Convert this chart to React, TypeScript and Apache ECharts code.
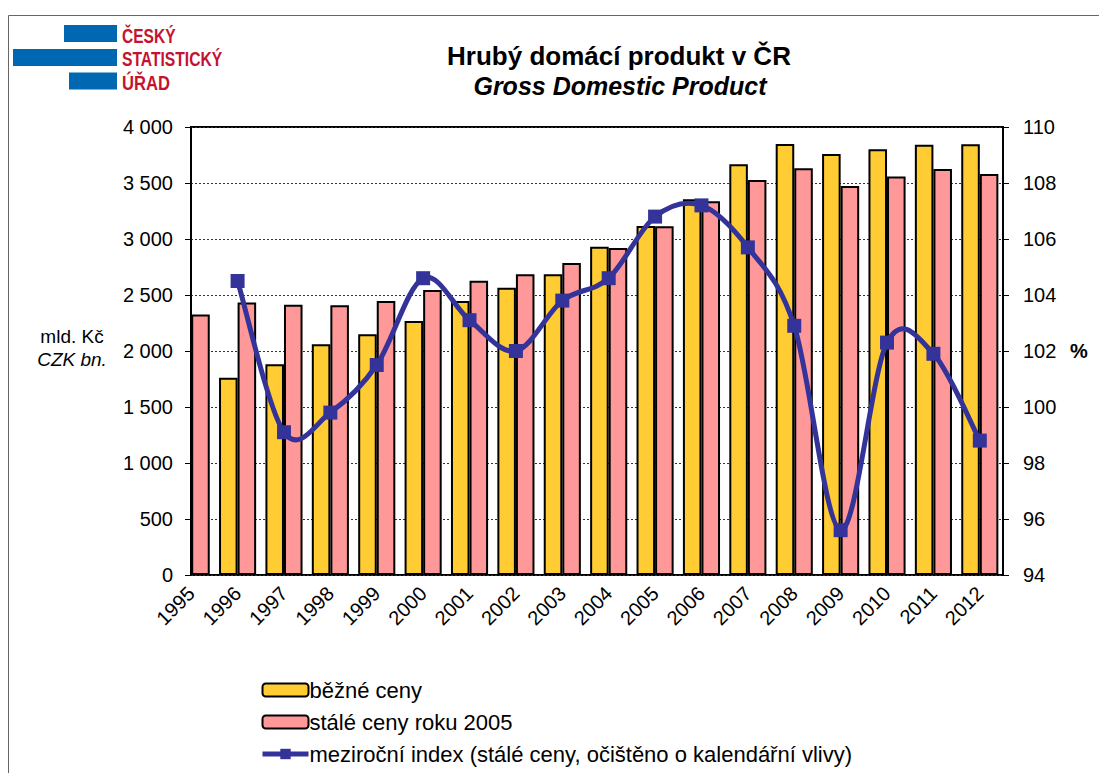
import React, { useEffect, useRef } from "react";
import * as echarts from "echarts";

const years = ["1995", "1996", "1997", "1998", "1999", "2000", "2001", "2002", "2003", "2004", "2005", "2006", "2007", "2008", "2009", "2010", "2011", "2012"];
const currentPrices = [null, 1762, 1881, 2060, 2149, 2268, 2446, 2565, 2685, 2930, 3116, 3354, 3667, 3848, 3759, 3801, 3842, 3845];
const constantPrices2005 = [2327, 2432, 2414, 2408, 2446, 2545, 2628, 2685, 2786, 2920, 3113, 3336, 3527, 3631, 3473, 3557, 3625, 3580];
const yoyIndex = [null, 104.5, 99.1, 99.8, 101.5, 104.6, 103.1, 102.0, 103.8, 104.6, 106.8, 107.2, 105.7, 102.9, 95.6, 102.3, 101.9, 98.8];

const leftAxis = { min: 0, max: 4000, interval: 500 };
const rightAxis = { min: 94, max: 110, interval: 2 };

const seriesNames = [
  "běžné ceny",
  "stálé ceny roku 2005",
  "meziroční index (stálé ceny, očištěno o kalendářní vlivy)",
];

const FONT = "'Liberation Sans', Arial, sans-serif";
const LINE_COLOR = "#333399";

export default function App() {
  const ref = useRef<HTMLDivElement>(null);

  useEffect(() => {
    if (!ref.current) return;
    const chart = echarts.init(ref.current, undefined, { renderer: "svg" });

    const fmtThousands = (v: number) => {
      const s = String(Math.round(v));
      return s.replace(/\B(?=(\d{3})+(?!\d))/g, " ");
    };

    // Excel-like smoothed line (Catmull-Rom → cubic Bézier), positioned via the axes' own scales
    const renderSmooth = (params: any, api: any) => {
      const i = params.dataIndex;
      const pt = (k: number) => {
        const v = yoyIndex[k];
        return v == null ? null : api.coord([k, v]);
      };
      if (i >= yoyIndex.length - 1) return null;
      const p1 = pt(i);
      const p2 = pt(i + 1);
      if (!p1 || !p2) return null;
      const p0 = pt(i - 1) || p1;
      const p3 = pt(i + 2) || p2;
      const t = 1 / 6;
      return {
        type: "bezierCurve",
        shape: {
          x1: p1[0],
          y1: p1[1],
          x2: p2[0],
          y2: p2[1],
          cpx1: p1[0] + (p2[0] - p0[0]) * t,
          cpy1: p1[1] + (p2[1] - p0[1]) * t,
          cpx2: p2[0] - (p3[0] - p1[0]) * t,
          cpy2: p2[1] - (p3[1] - p1[1]) * t,
        },
        style: { stroke: LINE_COLOR, lineWidth: 5, fill: "none", lineCap: "round" },
      };
    };

    const option: any = {
      animation: false,
      backgroundColor: "#fff",
      textStyle: { fontFamily: FONT },
      grid: [
        { left: 191, top: 127, width: 812, height: 448, show: true, borderColor: "#000", borderWidth: 2, backgroundColor: "transparent" },
        { left: 168, top: 127, width: 835, height: 448 },
      ],
      xAxis: [
        { gridIndex: 0, type: "value", min: 0, max: 1, show: false },
        {
          gridIndex: 1,
          type: "category",
          data: years,
          axisLine: { show: false },
          axisTick: { show: false },
          axisLabel: { rotate: 45, interval: 0, fontSize: 20, color: "#000", margin: 15, fontFamily: FONT },
        },
      ],
      yAxis: [
        {
          gridIndex: 0,
          type: "value",
          position: "left",
          min: leftAxis.min,
          max: leftAxis.max,
          interval: leftAxis.interval,
          axisLine: { show: true, lineStyle: { color: "#000", width: 2 } },
          axisTick: { show: true, length: 6, lineStyle: { color: "#000", width: 1 } },
          axisLabel: { formatter: fmtThousands, fontSize: 20, color: "#000", margin: 18, fontFamily: FONT },
          splitLine: { show: true, lineStyle: { color: "#333", type: [2, 2], width: 1 } },
        },
        {
          gridIndex: 0,
          type: "value",
          position: "right",
          min: rightAxis.min,
          max: rightAxis.max,
          interval: rightAxis.interval,
          axisLine: { show: true, lineStyle: { color: "#000", width: 2 } },
          axisTick: { show: true, length: 6, lineStyle: { color: "#000", width: 1 } },
          axisLabel: { fontSize: 20, color: "#000", margin: 20, fontFamily: FONT },
          splitLine: { show: false },
        },
        { gridIndex: 1, type: "value", min: leftAxis.min, max: leftAxis.max, interval: leftAxis.interval, show: false, splitLine: { show: false } },
        { gridIndex: 1, type: "value", min: rightAxis.min, max: rightAxis.max, interval: rightAxis.interval, show: false, splitLine: { show: false } },
      ],
      legend: {
        orient: "vertical",
        left: 255,
        top: 674,
        itemWidth: 46,
        itemHeight: 13,
        itemGap: 10,
        textStyle: { fontSize: 22, color: "#000", fontFamily: FONT, padding: [0, 0, 0, -4] },
        data: [
          { name: seriesNames[0] },
          { name: seriesNames[1] },
          { name: seriesNames[2], lineStyle: { color: LINE_COLOR, width: 5, opacity: 1 } },
        ],
      },
      series: [
        {
          name: seriesNames[0],
          type: "bar",
          xAxisIndex: 1,
          yAxisIndex: 2,
          data: currentPrices,
          barGap: "0%",
          barCategoryGap: "20%",
          itemStyle: { color: "#FFCC33", borderColor: "#000", borderWidth: 2 },
        },
        {
          name: seriesNames[1],
          type: "bar",
          xAxisIndex: 1,
          yAxisIndex: 2,
          data: constantPrices2005,
          barGap: "0%",
          barCategoryGap: "20%",
          itemStyle: { color: "#FF9999", borderColor: "#000", borderWidth: 2 },
        },
        {
          name: "smoothCurve",
          type: "custom",
          xAxisIndex: 1,
          yAxisIndex: 3,
          data: yoyIndex.map((v, i) => [i, v == null ? 0 : v]),
          encode: { x: 0, y: 1 },
          renderItem: renderSmooth,
          silent: true,
          z: 4,
        },
        {
          name: seriesNames[2],
          type: "line",
          xAxisIndex: 1,
          yAxisIndex: 3,
          data: yoyIndex,
          symbol: "rect",
          symbolSize: 14,
          lineStyle: { color: LINE_COLOR, width: 5, opacity: 0 },
          itemStyle: { color: LINE_COLOR },
          z: 5,
        },
      ],
      graphic: [
        { type: "rect", shape: { x: 8.5, y: 15.5, width: 1200, height: 1000 }, style: { fill: "none", stroke: "#666", lineWidth: 1 }, silent: true, z: -1 },
        // logo
        { type: "rect", shape: { x: 64, y: 25, width: 53, height: 17 }, style: { fill: "#0068B3" } },
        { type: "rect", shape: { x: 13, y: 49, width: 104, height: 17 }, style: { fill: "#0068B3" } },
        { type: "rect", shape: { x: 69, y: 72.5, width: 48, height: 17 }, style: { fill: "#0068B3" } },
        { type: "text", x: 122, y: 35.5, scaleX: 0.74, style: { text: "ČESKÝ", font: "bold 21px " + FONT, fill: "#C4122F", textAlign: "left", textVerticalAlign: "middle" } },
        { type: "text", x: 122, y: 58.5, scaleX: 0.745, style: { text: "STATISTICKÝ", font: "bold 21px " + FONT, fill: "#C4122F", textAlign: "left", textVerticalAlign: "middle" } },
        { type: "text", x: 122, y: 82.5, scaleX: 0.79, style: { text: "ÚŘAD", font: "bold 21px " + FONT, fill: "#C4122F", textAlign: "left", textVerticalAlign: "middle" } },
        // title
        { type: "text", x: 619, y: 56, style: { text: "Hrubý domácí produkt v ČR", font: "bold 26px " + FONT, fill: "#000", textAlign: "center", textVerticalAlign: "middle" } },
        { type: "text", x: 620, y: 86, style: { text: "Gross Domestic Product", font: "italic bold 25px " + FONT, fill: "#000", textAlign: "center", textVerticalAlign: "middle" } },
        // axis names
        { type: "text", x: 72, y: 336, style: { text: "mld. Kč", font: "19px " + FONT, fill: "#000", textAlign: "center", textVerticalAlign: "middle" } },
        { type: "text", x: 72, y: 359, style: { text: "CZK bn.", font: "italic 19px " + FONT, fill: "#000", textAlign: "center", textVerticalAlign: "middle" } },
        { type: "text", x: 1079, y: 351, style: { text: "%", font: "bold 20px " + FONT, fill: "#000", textAlign: "center", textVerticalAlign: "middle" } },
      ],
    };

    chart.setOption(option);
    return () => chart.dispose();
  }, []);

  return (
    <div
      ref={ref}
      style={{ position: "fixed", left: 0, top: 0, width: 1099, height: 773, background: "#fff" }}
    />
  );
}
